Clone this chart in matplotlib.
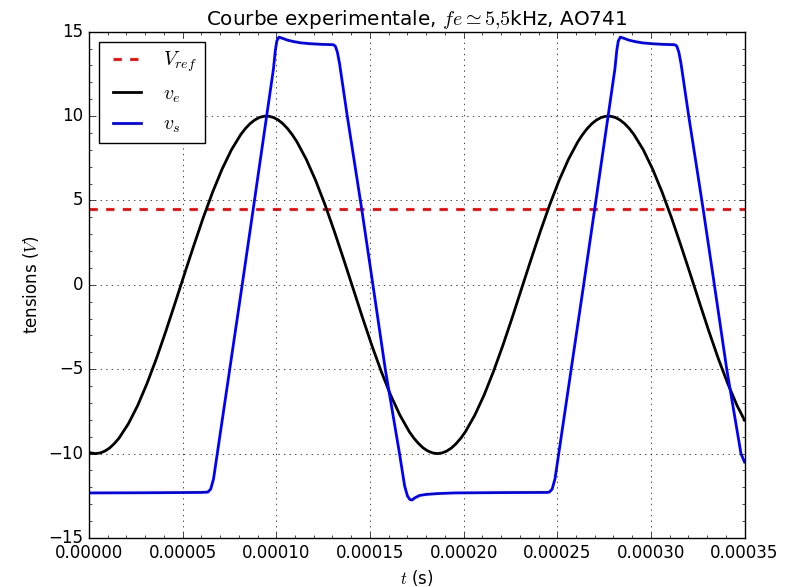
import matplotlib
matplotlib.use("Agg")
import matplotlib.pyplot as plt
from matplotlib.ticker import AutoMinorLocator

# temps en microsecondes, converti en secondes pour le trace
t_ve_us = [0, 1, 3.5, 6, 8.5, 11, 13.5, 16, 21, 26, 31, 36, 41, 46, 51, 56, 61,
           66, 71, 76, 81, 83.5, 86, 88.5, 91, 93.5, 96, 98.5, 101, 103.5, 106,
           108.5, 111, 116, 121, 126, 131, 136, 141, 146, 151, 156, 161, 166,
           171, 173.5, 176, 178.5, 181, 183.5, 186, 188.5, 191, 193.5, 196,
           198.5, 201, 206, 211, 216, 221, 226, 231, 236, 241, 246, 251, 256,
           261, 263.5, 266, 268.5, 271, 273.5, 276, 278.5, 281, 283.5, 286,
           288.5, 291, 296, 301, 306, 311, 316, 321, 326, 331, 336, 341, 346, 350]
ve = [-9.93, -9.96, -10.0, -9.96, -9.85, -9.67, -9.41, -9.09, -8.24, -7.15,
      -5.84, -4.37, -2.76, -1.07, 0.65, 2.34, 3.98, 5.49, 6.84, 7.99, 8.90,
      9.26, 9.55, 9.77, 9.92, 9.99, 9.99, 9.92, 9.77, 9.55, 9.26, 8.90, 8.48,
      7.44, 6.19, 4.75, 3.17, 1.50, -0.21, -1.93, -3.58, -5.12, -6.52, -7.72,
      -8.70, -9.09, -9.41, -9.67, -9.85, -9.96, -10.0, -9.96, -9.85, -9.67,
      -9.41, -9.09, -8.70, -7.72, -6.52, -5.12, -3.58, -1.93, -0.21, 1.50,
      3.17, 4.75, 6.19, 7.44, 8.48, 8.90, 9.26, 9.55, 9.77, 9.92, 9.99, 9.99,
      9.92, 9.77, 9.55, 9.26, 8.90, 7.99, 6.84, 5.49, 3.98, 2.34, 0.65, -1.07,
      -2.76, -4.37, -5.84, -7.15, -8.02]

t_vs_us = [0, 30, 60, 63.5, 65, 66.5, 68.5, 81.8, 87.7, 98.5, 99.5, 100.3, 101.4,
           103, 106, 109, 113, 118, 124, 130.4, 131.5, 132.6, 133.8, 137.9, 145.6,
           151.6, 158.2, 165.8, 168.5, 170.0, 171.3, 172.5, 174, 176.5, 180, 186,
           195, 220, 244.5, 245.8, 247.3, 248.8, 250.8, 264.1, 270.0, 280.8,
           281.8, 282.6, 283.7, 285.3, 288.3, 291.3, 295.3, 300.3, 306.3, 312.7,
           313.8, 314.9, 316.1, 320.2, 327.9, 333.9, 340.5, 348.1, 350]
vs = [-12.33, -12.32, -12.3, -12.28, -12.1, -11.5, -10.0, 0.0, 4.5, 12.8, 13.9,
      14.45, 14.68, 14.62, 14.5, 14.42, 14.34, 14.29, 14.25, 14.23, 14.15, 13.8,
      13.1, 10.0, 4.5, 0.0, -5.0, -10.0, -11.9, -12.5, -12.72, -12.75, -12.62,
      -12.48, -12.42, -12.37, -12.33, -12.31, -12.3, -12.28, -12.1, -11.5,
      -10.0, 0.0, 4.5, 12.8, 13.9, 14.45, 14.68, 14.62, 14.5, 14.42, 14.34,
      14.29, 14.25, 14.23, 14.15, 13.8, 13.1, 10.0, 4.5, 0.0, -5.0, -10.0, -10.5]

v_ref = 4.5
t_lim = (0, 0.00035)

plt.style.use("classic")
plt.rcParams["figure.facecolor"] = "white"
plt.rcParams["savefig.facecolor"] = "white"
plt.rcParams["lines.solid_joinstyle"] = "round"

t_ve = [x * 1e-6 for x in t_ve_us]
t_vs = [x * 1e-6 for x in t_vs_us]

fig = plt.figure(figsize=(7.98, 5.87), dpi=100)
fig.subplots_adjust(left=0.1115, right=0.933, top=0.946, bottom=0.0835)
ax = fig.add_subplot(111)

ax.plot(t_lim, [v_ref, v_ref], "r--", lw=2, label=r"$V_{ref}$")
ax.plot(t_ve, ve, "k-", lw=2, label=r"$v_e$")
ax.plot(t_vs, vs, "b-", lw=2, label=r"$v_s$")

ax.set_xlim(t_lim)
ax.set_ylim(-15, 15)
ax.set_yticks([-15, -10, -5, 0, 5, 10, 15])
ax.xaxis.set_minor_locator(AutoMinorLocator())
ax.yaxis.set_minor_locator(AutoMinorLocator())
ax.grid(True)

ax.set_title(r"Courbe experimentale, $fe \simeq 5{,}5$kHz, AO741")
ax.set_xlabel(r"$t$ (s)")
ax.set_ylabel(r"tensions ($V$)")
ax.legend(loc="upper left")

fig.savefig("out.png", dpi=100)
